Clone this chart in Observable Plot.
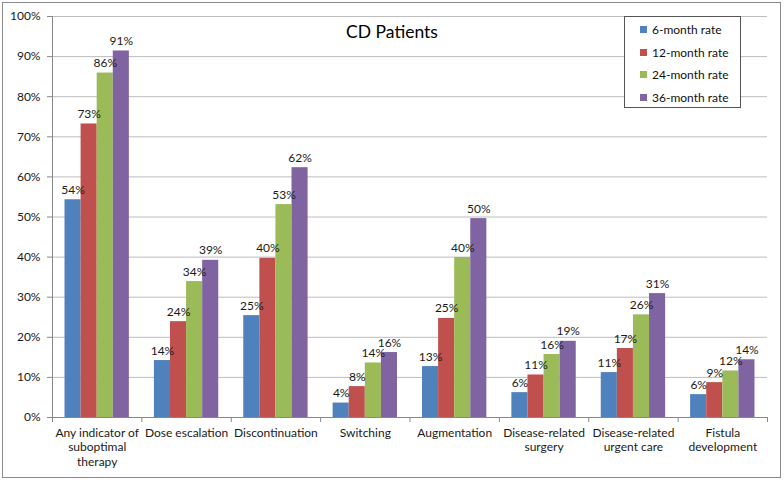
<!DOCTYPE html>
<html><head><meta charset="utf-8">
<script src="https://cdn.jsdelivr.net/npm/d3@7"></script>
<script src="https://cdn.jsdelivr.net/npm/@observablehq/plot@0.6"></script>
<style>
body{margin:0;background:#fff;font-family:Lato,"Liberation Sans",sans-serif;}
#wrap{position:relative;width:784px;height:480px;}
#wrap svg{position:absolute;left:0;top:0;}
#border{position:absolute;left:2px;top:2px;width:779px;height:476px;border:1.5px solid #8a8a8a;pointer-events:none;box-sizing:border-box;}
#legend{position:absolute;left:624px;top:16px;width:117px;height:92px;border:1px solid #555;background:#fff;box-sizing:border-box;font-size:12px;color:#111;padding-top:1px;}
.item{display:flex;align-items:center;height:22.7px;padding-left:15px;}
.sw{width:7px;height:7px;margin-right:5px;}
</style></head><body><div id="wrap"></div>
<script>
const title = "CD Patients";
const categories = ["Any indicator of suboptimal therapy","Dose escalation","Discontinuation","Switching","Augmentation","Disease-related surgery","Disease-related urgent care","Fistula development"];
const categoryLabels = ["Any indicator of\nsuboptimal\ntherapy","Dose escalation","Discontinuation","Switching","Augmentation","Disease-related\nsurgery","Disease-related\nurgent care","Fistula\ndevelopment"];
const series = ["6-month rate","12-month rate","24-month rate","36-month rate"];
const colors = ["#4F81BD","#C0504D","#9BBB59","#8064A2"];
const rate6  = [54.3, 14.2, 25.4, 3.6, 12.7, 6.2, 11.2, 5.7];
const rate12 = [73.2, 23.9, 39.7, 7.7, 24.7, 10.6, 17.2, 8.7];
const rate24 = [85.9, 33.9, 53.1, 13.6, 39.9, 15.7, 25.6, 11.6];
const rate36 = [91.4, 39.2, 62.3, 16.2, 49.6, 19.0, 30.9, 14.4];
const yTicks = [0,10,20,30,40,50,60,70,80,90,100];

const values = [rate6, rate12, rate24, rate36];
const padOuter = 0.14, barW = 0.18;
const rows = [];
categories.forEach((c, i) => series.forEach((s, j) => {
  const x1 = i + padOuter + j * barW;
  rows.push({category: c, series: s, value: values[j][i], x1, x2: x1 + barW, xm: x1 + barW / 2});
}));
const catRows = categories.map((c, i) => ({category: c, label: categoryLabels[i], x: i + 0.5}));

const chart = Plot.plot({
  width: 784, height: 480,
  marginLeft: 52, marginRight: 17, marginTop: 16, marginBottom: 63,
  style: {fontFamily: "Lato, 'Liberation Sans', sans-serif", fontSize: "11.5px", color: "#1a1a1a", background: "transparent"},
  x: {type: "linear", domain: [0, categories.length], axis: null},
  y: {domain: [0, 100], axis: null},
  color: {domain: series, range: colors},
  marks: [
    Plot.gridY(yTicks, {stroke: "#bdbdbd", strokeOpacity: 1}),
    Plot.axisY({ticks: yTicks, tickFormat: d => d + "%", tickSize: 5, tickPadding: 7, stroke: "#888", fontSize: 12, label: null}),
    Plot.ruleX([0], {stroke: "#888"}),
    Plot.rectY(rows, {x1: "x1", x2: "x2", y: "value", fill: "series"}),
    Plot.ruleY([0], {stroke: "#888"}),
    Plot.axisX({ticks: d3.range(categories.length + 1), tickFormat: () => "", tickSize: 5, stroke: "#888", label: null}),
    Plot.text(rows, {x: "xm", y: "value", text: d => Math.round(d.value) + "%", lineAnchor: "bottom", dy: -6, fontSize: 12, fill: "#1a1a1a"}),
    Plot.text(catRows, {x: "x", y: () => 0, text: "label", lineAnchor: "top", dy: 9, fontSize: 12, lineHeight: 1.2, fill: "#1a1a1a"}),
    Plot.text([title], {frameAnchor: "top", dx: -18, dy: 9, fontSize: 17.5, fill: "#000"})
  ]
});
const wrap = document.getElementById("wrap");
wrap.appendChild(chart);
const legend = document.createElement("div");
legend.id = "legend";
series.forEach((s, j) => {
  const item = document.createElement("div");
  item.className = "item";
  const sw = document.createElement("span");
  sw.className = "sw";
  sw.style.background = colors[j];
  const t = document.createElement("span");
  t.textContent = s;
  item.appendChild(sw); item.appendChild(t);
  legend.appendChild(item);
});
wrap.appendChild(legend);
const border = document.createElement("div");
border.id = "border";
wrap.appendChild(border);
</script></body></html>
